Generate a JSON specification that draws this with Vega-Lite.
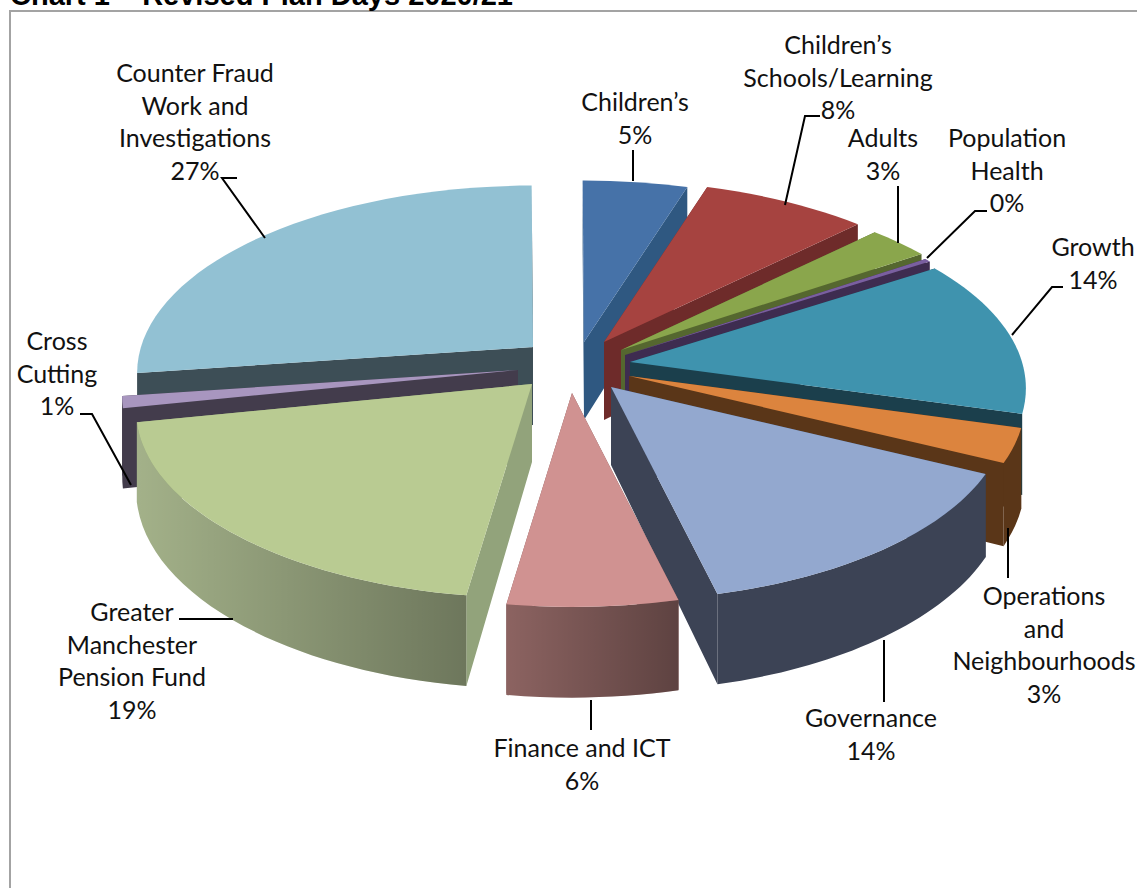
{
  "$schema": "https://vega.github.io/schema/vega-lite/v6.json",
  "width": 1137,
  "height": 888,
  "autosize": "none",
  "padding": 0,
  "background": "white",
  "config": {"view": {"stroke": null}},
  "params": [
    {"name": "tau", "expr": "2*PI"},
    {"name": "a", "value": 392},
    {"name": "b", "value": 184},
    {"name": "k", "value": 0.14},
    {"name": "d", "value": 78},
    {"name": "w", "value": 0.03},
    {"name": "rx", "expr": "a/sqrt(1-k*k)"},
    {"name": "ry", "expr": "b/(1-k*k)"},
    {"name": "ryb", "expr": "(b+d*k)/(1-k*k)"},
    {"name": "tR", "expr": "acos(-k)"},
    {"name": "tL", "expr": "2*PI-acos(-k)"},
    {"name": "shift", "value": {
      "Children": [-1, -18],
      "Schools": [19, -18],
      "Adults": [36, -10],
      "Population": [40, -5],
      "Growth": [45, 2],
      "Operations": [44, 16],
      "Governance": [26, 27],
      "Finance": [-13, 33],
      "Pension": [-53, 24],
      "Cross": [-67, 10],
      "Fraud": [-52, -13]
    }},
    {"name": "labelAt", "value": {
      "Children": [50, -257],
      "Schools": [253, -314],
      "Adults": [298, -221],
      "Population": [422, -221],
      "Growth": [508, -112],
      "Operations": [459, 237],
      "Governance": [286, 359],
      "Finance": [-3, 389],
      "Pension": [-453, 253],
      "Cross": [-528, -18],
      "Fraud": [-390, -286]
    }},
    {"name": "leader", "value": {
      "Children": "M48,-210L48,-179",
      "Schools": "M235,-244L220,-244L200,-155",
      "Adults": "M313,-174L313,-117",
      "Population": "M402,-149L390,-149L342,-102",
      "Growth": "M478,-73L467,-73L427,-25",
      "Operations": "M423,168L423,218",
      "Governance": "M299,280L299,342",
      "Finance": "M6,340L6,370",
      "Pension": "M-406,259L-352,259",
      "Cross": "M-505,54L-493,54L-454,125",
      "Fraud": "M-348,-182L-363,-182L-320,-122"
    }}
  ],
  "data": {"values": [
    {"category": "Children", "slice": 1, "percent": 5, "label": "Children’s"},
    {"category": "Schools", "slice": 2, "percent": 8, "label": "Children’s\nSchools/Learning"},
    {"category": "Adults", "slice": 3, "percent": 3, "label": "Adults"},
    {"category": "Population", "slice": 4, "percent": 0.3, "label": "Population\nHealth"},
    {"category": "Fraud", "slice": 11, "percent": 27, "label": "Counter Fraud\nWork and\nInvestigations"},
    {"category": "Cross", "slice": 10, "percent": 1, "label": "Cross\nCutting"},
    {"category": "Growth", "slice": 5, "percent": 14, "label": "Growth"},
    {"category": "Operations", "slice": 6, "percent": 3, "label": "Operations\nand\nNeighbourhoods"},
    {"category": "Pension", "slice": 9, "percent": 19, "label": "Greater\nManchester\nPension Fund"},
    {"category": "Governance", "slice": 7, "percent": 14, "label": "Governance"},
    {"category": "Finance", "slice": 8, "percent": 6, "label": "Finance and ICT"}
  ]},
  "transform": [
    {"stack": "percent", "groupby": [], "offset": "normalize", "sort": [{"field": "slice", "order": "ascending"}], "as": ["v0", "v1"]}
  ],
  "encoding": {
    "x": {"datum": 0, "type": "quantitative", "scale": {"domain": [-585, 552], "nice": false, "zero": false}, "axis": null},
    "y": {"datum": 0, "type": "quantitative", "scale": {"domain": [528, -360], "nice": false, "zero": false}, "axis": null}
  },
  "layer": [
    {
      "mark": {
        "type": "point", "filled": true, "opacity": 1, "size": 4, "strokeWidth": 0,
        "shape": {"expr": "'M'+shift[datum.category][0]+' '+shift[datum.category][1]+'L'+(shift[datum.category][0]+a*sin(datum.v0*tau-w-w*cos(datum.v0*tau-2.62))/(1+k*cos(datum.v0*tau-w-w*cos(datum.v0*tau-2.62))))+' '+(shift[datum.category][1]-b*cos(datum.v0*tau-w-w*cos(datum.v0*tau-2.62))/(1+k*cos(datum.v0*tau-w-w*cos(datum.v0*tau-2.62))))+'L'+(shift[datum.category][0]+a*sin(datum.v0*tau-w-w*cos(datum.v0*tau-2.62))/(1+k*cos(datum.v0*tau-w-w*cos(datum.v0*tau-2.62))))+' '+(shift[datum.category][1]+(d-b*cos(datum.v0*tau-w-w*cos(datum.v0*tau-2.62)))/(1+k*cos(datum.v0*tau-w-w*cos(datum.v0*tau-2.62))))+'L'+shift[datum.category][0]+' '+(shift[datum.category][1]+d)+'ZM'+shift[datum.category][0]+' '+shift[datum.category][1]+'L'+(shift[datum.category][0]+a*sin(datum.v1*tau-w-w*cos(datum.v1*tau-2.62))/(1+k*cos(datum.v1*tau-w-w*cos(datum.v1*tau-2.62))))+' '+(shift[datum.category][1]-b*cos(datum.v1*tau-w-w*cos(datum.v1*tau-2.62))/(1+k*cos(datum.v1*tau-w-w*cos(datum.v1*tau-2.62))))+'L'+(shift[datum.category][0]+a*sin(datum.v1*tau-w-w*cos(datum.v1*tau-2.62))/(1+k*cos(datum.v1*tau-w-w*cos(datum.v1*tau-2.62))))+' '+(shift[datum.category][1]+(d-b*cos(datum.v1*tau-w-w*cos(datum.v1*tau-2.62)))/(1+k*cos(datum.v1*tau-w-w*cos(datum.v1*tau-2.62))))+'L'+shift[datum.category][0]+' '+(shift[datum.category][1]+d)+'Z'"}
      },
      "encoding": {
        "color": {"field": "category", "type": "nominal", "legend": null, "scale": {
          "domain": ["Children", "Schools", "Adults", "Population", "Growth", "Operations", "Governance", "Finance", "Pension", "Cross", "Fraud"],
          "range": ["#2f5881", "#6e2b2a", "#55672f", "#3e2c50", "#1b3f4c", "#5a3618", "#3c4355", "#7e5555", "#92a37b", "#433c4c", "#3d4e56"]
        }}
      }
    },
    {
      "transform": [{"filter": "datum.category!=='Growth' && datum.v1*tau-w-w*cos(datum.v1*tau-2.62)>tR && datum.v0*tau-w-w*cos(datum.v0*tau-2.62)<tL"}],
      "mark": {
        "type": "point", "filled": true, "opacity": 1, "size": 4, "strokeWidth": 0,
        "shape": {"expr": "'M'+(shift[datum.category][0]+a*sin(max(datum.v0*tau-w-w*cos(datum.v0*tau-2.62),tR))/(1+k*cos(max(datum.v0*tau-w-w*cos(datum.v0*tau-2.62),tR))))+' '+(shift[datum.category][1]-b*cos(max(datum.v0*tau-w-w*cos(datum.v0*tau-2.62),tR))/(1+k*cos(max(datum.v0*tau-w-w*cos(datum.v0*tau-2.62),tR))))+'A'+rx+' '+ry+' 0 0 1 '+(shift[datum.category][0]+a*sin(min(datum.v1*tau-w-w*cos(datum.v1*tau-2.62),tL))/(1+k*cos(min(datum.v1*tau-w-w*cos(datum.v1*tau-2.62),tL))))+' '+(shift[datum.category][1]-b*cos(min(datum.v1*tau-w-w*cos(datum.v1*tau-2.62),tL))/(1+k*cos(min(datum.v1*tau-w-w*cos(datum.v1*tau-2.62),tL))))+'L'+(shift[datum.category][0]+a*sin(min(datum.v1*tau-w-w*cos(datum.v1*tau-2.62),tL))/(1+k*cos(min(datum.v1*tau-w-w*cos(datum.v1*tau-2.62),tL))))+' '+(shift[datum.category][1]+(d-b*cos(min(datum.v1*tau-w-w*cos(datum.v1*tau-2.62),tL)))/(1+k*cos(min(datum.v1*tau-w-w*cos(datum.v1*tau-2.62),tL))))+'A'+rx+' '+ryb+' 0 0 0 '+(shift[datum.category][0]+a*sin(max(datum.v0*tau-w-w*cos(datum.v0*tau-2.62),tR))/(1+k*cos(max(datum.v0*tau-w-w*cos(datum.v0*tau-2.62),tR))))+' '+(shift[datum.category][1]+(d-b*cos(max(datum.v0*tau-w-w*cos(datum.v0*tau-2.62),tR)))/(1+k*cos(max(datum.v0*tau-w-w*cos(datum.v0*tau-2.62),tR))))+'Z'"}
      },
      "encoding": {
        "color": {"field": "category", "type": "nominal", "legend": null, "scale": {
          "domain": ["Children", "Schools", "Adults", "Population", "Growth", "Operations", "Governance", "Finance", "Pension", "Cross", "Fraud"],
          "range": ["#2f5881", "#6e2b2a", "#55672f", "#3e2c50", "#1b3f4c", "#5a3618", "#3c4355", "#8c6361", "#a3b189", "#433c4c", "#3d4e56"]
        }}
      }
    },
    {
      "transform": [{"filter": "datum.category==='Pension' || datum.category==='Finance'"}],
      "mark": {
        "type": "point", "filled": true, "opacity": 1, "size": 4, "strokeWidth": 0,
        "fill": {"gradient": "linear", "x1": 0, "y1": 0, "x2": 1, "y2": 0, "stops": [{"offset": 0, "color": "rgba(0,0,0,0)"}, {"offset": 1, "color": "rgba(0,0,0,0.33)"}]},
        "shape": {"expr": "'M'+(shift[datum.category][0]+a*sin(max(datum.v0*tau-w-w*cos(datum.v0*tau-2.62),tR))/(1+k*cos(max(datum.v0*tau-w-w*cos(datum.v0*tau-2.62),tR))))+' '+(shift[datum.category][1]-b*cos(max(datum.v0*tau-w-w*cos(datum.v0*tau-2.62),tR))/(1+k*cos(max(datum.v0*tau-w-w*cos(datum.v0*tau-2.62),tR))))+'A'+rx+' '+ry+' 0 0 1 '+(shift[datum.category][0]+a*sin(min(datum.v1*tau-w-w*cos(datum.v1*tau-2.62),tL))/(1+k*cos(min(datum.v1*tau-w-w*cos(datum.v1*tau-2.62),tL))))+' '+(shift[datum.category][1]-b*cos(min(datum.v1*tau-w-w*cos(datum.v1*tau-2.62),tL))/(1+k*cos(min(datum.v1*tau-w-w*cos(datum.v1*tau-2.62),tL))))+'L'+(shift[datum.category][0]+a*sin(min(datum.v1*tau-w-w*cos(datum.v1*tau-2.62),tL))/(1+k*cos(min(datum.v1*tau-w-w*cos(datum.v1*tau-2.62),tL))))+' '+(shift[datum.category][1]+(d-b*cos(min(datum.v1*tau-w-w*cos(datum.v1*tau-2.62),tL)))/(1+k*cos(min(datum.v1*tau-w-w*cos(datum.v1*tau-2.62),tL))))+'A'+rx+' '+ryb+' 0 0 0 '+(shift[datum.category][0]+a*sin(max(datum.v0*tau-w-w*cos(datum.v0*tau-2.62),tR))/(1+k*cos(max(datum.v0*tau-w-w*cos(datum.v0*tau-2.62),tR))))+' '+(shift[datum.category][1]+(d-b*cos(max(datum.v0*tau-w-w*cos(datum.v0*tau-2.62),tR)))/(1+k*cos(max(datum.v0*tau-w-w*cos(datum.v0*tau-2.62),tR))))+'Z'"}
      }
    },
    {
      "mark": {
        "type": "point", "filled": true, "opacity": 1, "size": 4, "strokeWidth": 0,
        "shape": {"expr": "'M'+shift[datum.category][0]+' '+shift[datum.category][1]+'L'+(shift[datum.category][0]+a*sin(datum.v0*tau-w-w*cos(datum.v0*tau-2.62))/(1+k*cos(datum.v0*tau-w-w*cos(datum.v0*tau-2.62))))+' '+(shift[datum.category][1]-b*cos(datum.v0*tau-w-w*cos(datum.v0*tau-2.62))/(1+k*cos(datum.v0*tau-w-w*cos(datum.v0*tau-2.62))))+'A'+rx+' '+ry+' 0 0 1 '+(shift[datum.category][0]+a*sin(datum.v1*tau-w-w*cos(datum.v1*tau-2.62))/(1+k*cos(datum.v1*tau-w-w*cos(datum.v1*tau-2.62))))+' '+(shift[datum.category][1]-b*cos(datum.v1*tau-w-w*cos(datum.v1*tau-2.62))/(1+k*cos(datum.v1*tau-w-w*cos(datum.v1*tau-2.62))))+'Z'"}
      },
      "encoding": {
        "color": {"field": "category", "type": "nominal", "legend": null, "scale": {
          "domain": ["Children", "Schools", "Adults", "Population", "Growth", "Operations", "Governance", "Finance", "Pension", "Cross", "Fraud"],
          "range": ["#4672a8", "#a64340", "#8aa64c", "#7a5fa0", "#3f93ae", "#dc843e", "#93a8cf", "#d09291", "#b9cb92", "#a896bf", "#92c1d3"]
        }}
      }
    },
    {
      "mark": {
        "type": "point", "filled": false, "opacity": 1, "size": 4, "stroke": "#000000", "strokeWidth": 2,
        "shape": {"expr": "leader[datum.category]"}
      }
    },
    {
      "mark": {
        "type": "text", "font": "Lato", "fontSize": 25, "lineHeight": 32.5, "lineBreak": "\n", "align": "center", "baseline": "middle", "color": "#111111",
        "xOffset": {"expr": "labelAt[datum.category][0]"},
        "yOffset": {"expr": "labelAt[datum.category][1]"},
        "text": {"expr": "datum.label+'\\n'+format(datum.percent/100,'.0%')"}
      }
    },
    {
      "data": {"values": [{"edge": "left"}]},
      "mark": {"type": "rule", "color": "#a3a3a3", "strokeWidth": 2},
      "encoding": {
        "x": {"datum": -575},
        "y": {"datum": -349},
        "y2": {"datum": 528}
      }
    },
    {
      "data": {"values": [{"edge": "top"}]},
      "mark": {"type": "rule", "color": "#a3a3a3", "strokeWidth": 2},
      "encoding": {
        "y": {"datum": -349},
        "x": {"datum": -576},
        "x2": {"datum": 552}
      }
    },
    {
      "data": {"values": [{"title": "Chart 1 – Revised Plan Days 2020/21"}]},
      "mark": {"type": "text", "font": "Liberation Sans", "fontWeight": "bold", "fontSize": 29, "align": "left", "baseline": "alphabetic", "color": "#000000"},
      "encoding": {
        "x": {"datum": -575},
        "y": {"datum": -355},
        "text": {"field": "title"}
      }
    }
  ],
  "resolve": {"scale": {"color": "independent"}}
}
